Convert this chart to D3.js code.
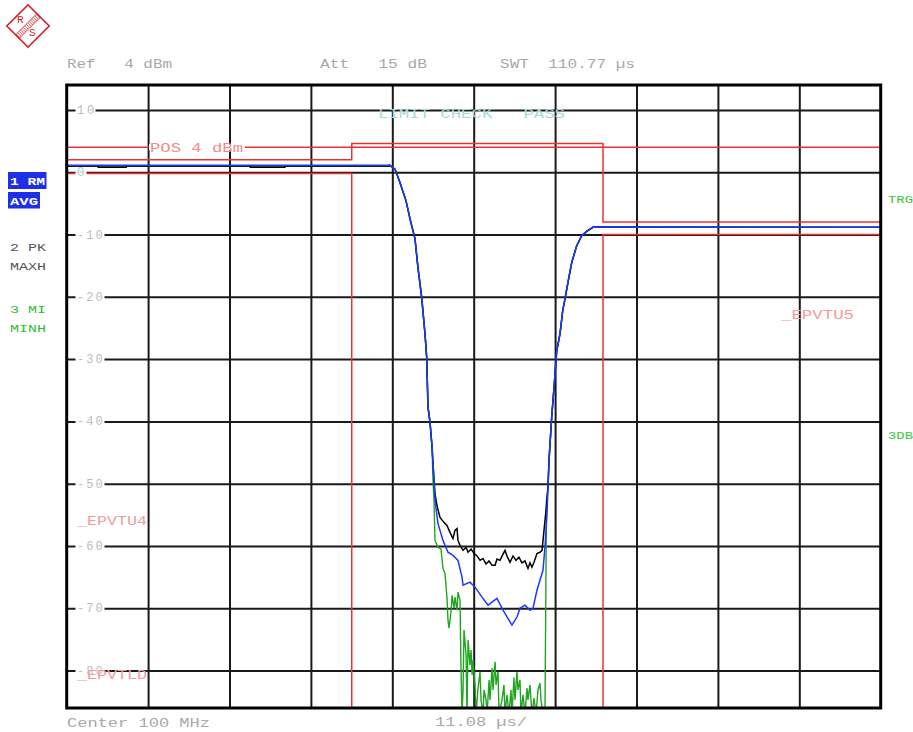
<!DOCTYPE html>
<html><head><meta charset="utf-8">
<script src="https://cdn.jsdelivr.net/npm/d3@7"></script>
<style>body{margin:0;background:#fff}svg{display:block}text{font-family:"Liberation Mono","DejaVu Sans Mono",monospace;white-space:pre}</style>
</head><body><svg id="c" width="913" height="732"></svg>
<script>
// ---------- data ----------
const sweepTime = 110.8;            // µs across 10 divisions (11.08 µs/div)
const dbTicks = [10, 0, -10, -20, -30, -40, -50, -60, -70, -80];
const timeGrid = [11.08, 22.16, 33.24, 44.32, 55.4, 66.48, 77.56, 88.64, 99.72];

// shared edges (time µs, level dB)
const fallT = [44.0, 44.69, 45.37, 46.19, 46.73, 47.41, 47.82, 48.32, 48.77, 49.0, 49.18, 49.45, 49.73];
const fallV = [1.1, 0.5, -1.7, -4.6, -7.5, -10.7, -15.4, -20.1, -25.9, -29.7, -37.7, -40.1, -44.1];
const riseT = [65.65, 66.01, 66.33, 66.7, 67.15, 67.52, 67.83, 68.2, 68.74, 69.42, 70.1, 70.78, 71.68, 110.8];
const riseV = [-46.3, -39.4, -34.6, -28.7, -25.9, -22.2, -20.3, -17.9, -14.5, -11.8, -10.2, -9.5, -8.8, -8.85];

// trace 1: RM AVG (blue)
const avgFlatT = [0, 44.0];
const avgFlatV = [1.1, 1.1];
const avgFloorT = [50.0, 50.13, 50.54, 51.22, 51.9, 52.58, 53.26, 53.81, 53.95, 54.9, 55.58, 56.53, 57.35, 58.57, 59.39, 60.61, 61.29, 61.7, 62.38, 63.06, 63.47, 64.01, 64.42, 64.83, 65.1, 65.38, 65.51];
const avgFloorV = [-49.5, -52.7, -56.4, -59.1, -61.0, -61.5, -62.3, -65.0, -66.3, -65.8, -66.6, -68.2, -69.5, -68.4, -70.3, -72.7, -71.4, -70.0, -69.5, -70.3, -70.0, -67.1, -65.5, -63.9, -60.2, -54.8, -50.6];

// trace 2: PK MAXH (black)
const maxFlatT = [0, 4.3, 4.3, 8.1, 8.1, 25.0, 25.0, 29.7, 29.7, 44.0];
const maxFlatV = [1.0, 1.0, 0.8, 0.8, 1.0, 1.0, 0.8, 0.8, 1.0, 1.0];
const maxFloorT = [50.0, 50.13, 50.4, 50.81, 51.35, 51.76, 52.17, 52.58, 52.85, 53.13, 53.26, 53.54, 53.95, 54.36, 54.63, 55.04, 55.45, 55.86, 56.27, 56.67, 57.08, 57.49, 57.9, 58.31, 58.57, 58.98, 59.39, 59.66, 59.93, 60.34, 60.75, 61.16, 61.56, 61.97, 62.38, 62.79, 63.06, 63.33, 63.61, 64.01, 64.42, 64.7, 64.97, 65.24, 65.51];
const maxFloorV = [-49.5, -51.6, -53.5, -55.4, -56.2, -56.7, -57.8, -58.8, -57.5, -57.2, -59.1, -59.9, -60.7, -60.2, -61.0, -60.5, -61.2, -61.6, -62.3, -62.0, -62.9, -62.4, -63.1, -63.1, -62.1, -62.3, -61.3, -60.7, -61.6, -62.6, -61.6, -62.3, -61.8, -62.7, -62.4, -63.6, -62.7, -63.4, -62.6, -61.2, -61.0, -60.7, -57.5, -54.3, -50.6];

// trace 3: MI MINH (green)
const minFlatT = [0, 44.0];
const minFlatV = [0.95, 0.95];
const minFloorT = [49.86, 50.0, 50.13, 50.54, 50.95, 51.22, 51.49, 51.76, 51.9, 52.04, 52.31, 52.45, 52.72, 52.85, 53.13, 53.26, 53.54, 53.67, 53.81, 53.95, 54.08, 54.36, 54.49, 54.63, 54.9, 55.04, 55.18, 55.31, 55.58, 55.72, 55.99, 56.26, 56.4, 56.67, 56.81, 57.08, 57.22, 57.49, 57.62, 57.9, 58.03, 58.31, 58.44, 58.71, 58.85, 59.25, 59.52, 59.66, 59.93, 60.2, 60.48, 60.61, 60.88, 61.02, 61.29, 61.43, 61.7, 61.84, 62.11, 62.38, 62.65, 62.79, 63.06, 63.33, 63.61, 63.88, 64.15, 64.42, 64.56, 64.83, 65.1, 65.31, 65.51];
const minFloorV = [-49.5, -52.7, -59.1, -60.2, -60.5, -63.6, -64.4, -68.2, -71.9, -73.2, -70.6, -67.9, -70.0, -68.2, -70.3, -67.4, -68.7, -79.6, -87, -83.1, -73.5, -77.5, -87, -75.1, -79.1, -76.7, -80.7, -78.3, -82.3, -87, -82.8, -80.2, -84.7, -87, -83.1, -84.7, -87, -81.5, -84.7, -79.6, -83.1, -78.6, -82.3, -80.2, -87, -84.7, -82.3, -87, -83.9, -87, -83.1, -87, -81.1, -84.7, -80.2, -83.1, -81.5, -87, -83.9, -87, -82.8, -84.7, -82.3, -87, -84.4, -87, -83.1, -82.0, -84.7, -87, -87, -52.7, -50.6];

// limit lines
const limT = [0, 38.8, 38.8, 73.0, 73.0, 110.8];
const upperLimV = [2, 2, 4.6, 4.6, -8, -8];
const lowerLimV = [-0.2, -0.2, -87, -87, -10, -10];
const displayLine = 4; // POS 4 dBm

// ---------- drawing ----------
const svg = d3.select("#c");
const L = 66.7, R = 880.7, T = 85, B = 708;
const x = d3.scaleLinear().domain([0, sweepTime]).range([L, R]);
const y = d3.scaleLinear().domain([14, -86]).range([T, B]);

const pts = (ts, vs) => ts.map((t, i) => [t, vs[i]]);
const line = d3.line().x(d => x(d[0])).y(d => y(d[1]));

svg.append("defs").append("clipPath").attr("id", "clip")
  .append("rect").attr("x", L).attr("y", T).attr("width", R - L).attr("height", B - T);

// grid via axes
svg.append("g").attr("transform", `translate(0,${B})`)
  .call(d3.axisBottom(x).tickValues(timeGrid).tickSize(-(B - T)).tickFormat(""))
  .call(g => g.select(".domain").remove())
  .call(g => g.selectAll("line").attr("stroke", "#1a1a1a").attr("stroke-width", 2));
svg.append("g").attr("transform", `translate(${L},0)`)
  .call(d3.axisLeft(y).tickValues(dbTicks).tickSize(-(R - L)).tickFormat(""))
  .call(g => g.select(".domain").remove())
  .call(g => g.selectAll("line").attr("stroke", "#1a1a1a").attr("stroke-width", 2));

const traces = svg.append("g").attr("clip-path", "url(#clip)");

// limit lines
traces.append("line").attr("x1", x(0)).attr("x2", x(sweepTime)).attr("y1", y(displayLine)).attr("y2", y(displayLine))
  .attr("stroke", "#f03030").attr("stroke-width", 1.5);
traces.append("path").attr("d", line(pts(limT, upperLimV))).attr("fill", "none").attr("stroke", "#f03030").attr("stroke-width", 1.5);
traces.append("path").attr("d", line(pts(limT, lowerLimV))).attr("fill", "none").attr("stroke", "#f03030").attr("stroke-width", 1.5);

// y tick labels inside the frame (white background breaks the grid line)
const tl = svg.append("g");
dbTicks.forEach(v => {
  const s = v < 0 ? "-" + Math.abs(v) : String(v);
  const w = s.length * 9 + 2;
  tl.append("rect").attr("x", 75.5).attr("y", y(v) - 3).attr("width", w).attr("height", 6).attr("fill", "#fff");
  tl.append("text").attr("x", 77).attr("y", y(v) + 4).attr("fill", "#bdbdbd").attr("font-size", 12)
    .attr("textLength", s.length * 8.6).attr("lengthAdjust", "spacing").text(s);
});

// traces: green, black, blue
const minData = pts(minFlatT, minFlatV).concat(pts(fallT, fallV), pts(minFloorT, minFloorV), pts(riseT, riseV));
const maxData = pts(maxFlatT, maxFlatV).concat(pts(fallT, fallV), pts(maxFloorT, maxFloorV), pts(riseT, riseV));
const avgData = pts(avgFlatT, avgFlatV).concat(pts(fallT, fallV), pts(avgFloorT, avgFloorV), pts(riseT, riseV));
traces.append("path").attr("d", line(minData)).attr("fill", "none").attr("stroke", "#1fa61f").attr("stroke-width", 1.4);
traces.append("path").attr("d", line(maxData)).attr("fill", "none").attr("stroke", "#000").attr("stroke-width", 1.5);
traces.append("path").attr("d", line(avgData)).attr("fill", "none").attr("stroke", "#1c38ff").attr("stroke-width", 1.5);

// frame
svg.append("rect").attr("x", L).attr("y", T).attr("width", R - L).attr("height", B - T)
  .attr("fill", "none").attr("stroke", "#000").attr("stroke-width", 3);

// texts
function txt(s, xx, yy, col, len, size) {
  const t = svg.append("text").attr("x", xx).attr("y", yy).attr("fill", col).attr("font-size", size || 12)
    .attr("xml:space", "preserve").text(s);
  if (len) t.attr("textLength", len).attr("lengthAdjust", "spacingAndGlyphs");
  return t;
}
const gray = "#a8a8a8";
txt("Ref   4 dBm", 67, 68, gray, 105);
txt("Att   15 dB", 320, 68, gray, 107);
txt("SWT  110.77 \u00b5s", 500, 68, gray, 135);
txt("LIMIT CHECK   PASS", 378, 118, "#a6dada", 187);
// POS 4 dBm label with white backing
svg.append("rect").attr("x", 149).attr("y", y(displayLine) - 3).attr("width", 96).attr("height", 6).attr("fill", "#fff");
txt("POS 4 dBm", 150, y(displayLine) + 4.5, "#f48a8a", 93);
txt("_EPVTU5", 781, 319, "#f59a9a", 73);
txt("_EPVTU4", 77, 525, "#f59a9a", 70);
txt("_EPVTLD", 77, 679, "#f59a9a", 70);
txt("Center 100 MHz", 67, 727, gray, 143);
txt("11.08 \u00b5s/", 435, 726, gray, 92);
txt("TRG", 888, 203, "#3cc43c", 25, 11);
txt("3DB", 888, 439, "#3cc43c", 25, 11);

// left trace labels
svg.append("rect").attr("x", 8).attr("y", 172).attr("width", 38.5).attr("height", 17).attr("fill", "#1f2fe8");
svg.append("rect").attr("x", 8).attr("y", 192).attr("width", 32).attr("height", 16.5).attr("fill", "#1f2fe8");
txt("1 RM", 10, 185, "#fff", 35, 11).attr("font-weight", "bold");
txt("AVG", 10, 205, "#fff", 28, 11).attr("font-weight", "bold");
txt("2 PK", 10, 251, "#555", 36, 11);
txt("MAXH", 10, 270, "#555", 36, 11);
txt("3 MI", 10, 313, "#33bb33", 36, 11);
txt("MINH", 10, 332, "#33bb33", 36, 11);

// R&S logo
const logo = svg.append("g").attr("transform", "translate(28,26) rotate(45)");
logo.append("rect").attr("x", -15).attr("y", -15).attr("width", 30).attr("height", 30).attr("fill", "none").attr("stroke", "#d8202a").attr("stroke-width", 1.6);
logo.append("rect").attr("x", -2.5).attr("y", -15).attr("width", 5).attr("height", 30).attr("fill", "none").attr("stroke", "#d8202a").attr("stroke-width", 0.8);
for (let i = -14; i <= 14; i += 2) {
  logo.append("line").attr("x1", -2.5).attr("x2", 2.5).attr("y1", i).attr("y2", i).attr("stroke", "#d8202a").attr("stroke-width", 0.7);
}
svg.append("text").attr("x", 17).attr("y", 23).attr("fill", "#d8202a").attr("font-family", "Liberation Sans, Arial, sans-serif").attr("font-size", 11).text("R");
svg.append("text").attr("x", 29).attr("y", 36).attr("fill", "#d8202a").attr("font-family", "Liberation Sans, Arial, sans-serif").attr("font-size", 11).text("S");
</script></body></html>
